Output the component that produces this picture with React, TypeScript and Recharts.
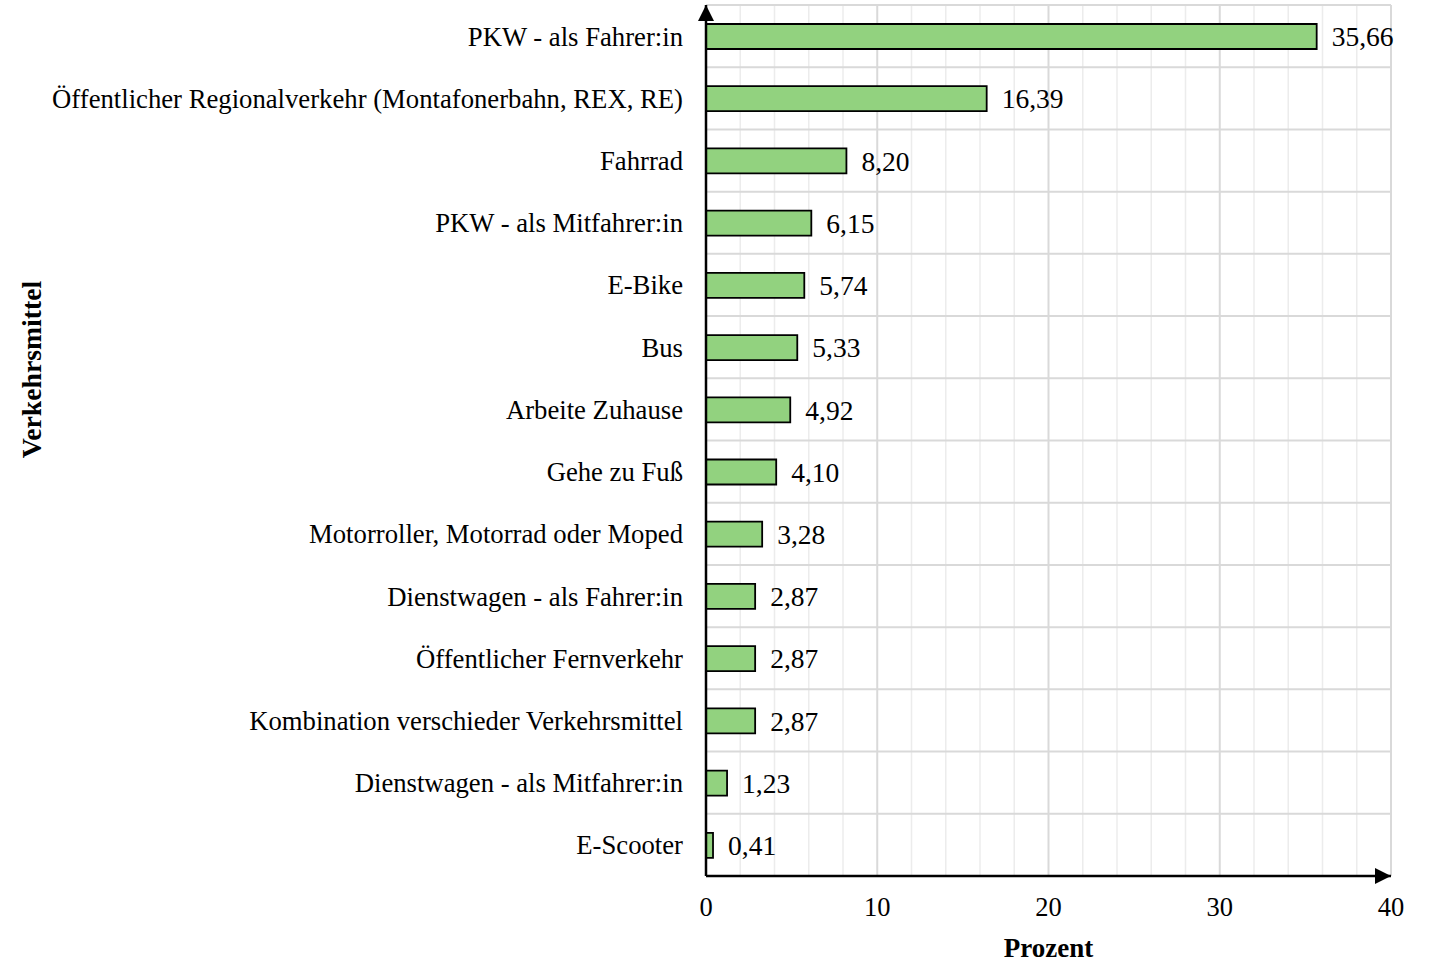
import React from 'react';
import { BarChart, Bar, XAxis, YAxis, CartesianGrid, LabelList } from 'recharts';

const categories = [
  'PKW - als Fahrer:in',
  'Öffentlicher Regionalverkehr (Montafonerbahn, REX, RE)',
  'Fahrrad',
  'PKW - als Mitfahrer:in',
  'E-Bike',
  'Bus',
  'Arbeite Zuhause',
  'Gehe zu Fuß',
  'Motorroller, Motorrad oder Moped',
  'Dienstwagen - als Fahrer:in',
  'Öffentlicher Fernverkehr',
  'Kombination verschieder Verkehrsmittel',
  'Dienstwagen - als Mitfahrer:in',
  'E-Scooter',
];
const values = [35.66, 16.39, 8.2, 6.15, 5.74, 5.33, 4.92, 4.1, 3.28, 2.87, 2.87, 2.87, 1.23, 0.41];
const xTicks = [0, 10, 20, 30, 40];
const minorGrid = [2, 4, 6, 8, 12, 14, 16, 18, 22, 24, 26, 28, 32, 34, 36, 38];
const majorGrid = [10, 20, 30, 40];
const xMax = 40;

const data = categories.map((name, i) => ({ name, value: values[i] }));

const FONT = '"Liberation Serif", "Times New Roman", serif';

const gridX = (vals: number[]) => ({ offset }: any) =>
  vals.map((v) => offset.left + (v / xMax) * offset.width);

export default function App() {
  return (
    <div style={{ position: 'absolute', left: 0, top: 0, width: 1432, height: 960, background: '#fff' }}>
      <svg width={0} height={0} style={{ position: 'absolute' }}>
        <defs>
          <marker id="arrowHead" markerUnits="userSpaceOnUse" markerWidth={18} markerHeight={18}
            refX={16} refY={8} orient="auto-start-reverse" viewBox="0 0 18 18">
            <path d="M0,0 L16,8 L0,16 Z" fill="#000" />
          </marker>
        </defs>
      </svg>
      <BarChart
        width={1432}
        height={960}
        data={data}
        layout="vertical"
        margin={{ top: 5, right: 41, bottom: 0, left: 0 }}
        barCategoryGap={0}
      >
        <CartesianGrid
          horizontal={false}
          stroke="#ececec"
          strokeWidth={1.5}
          verticalCoordinatesGenerator={gridX(minorGrid)}
        />
        <CartesianGrid
          horizontal={false}
          stroke="#d9d9d9"
          strokeWidth={2}
          verticalCoordinatesGenerator={gridX(majorGrid)}
        />
        <CartesianGrid
          vertical={false}
          stroke="#d9d9d9"
          strokeWidth={2}
          horizontalCoordinatesGenerator={({ offset }: any) =>
            categories.map((_, i) => offset.top + (i * offset.height) / categories.length).concat([offset.top + offset.height])
          }
        />
        <XAxis
          type="number"
          domain={[0, xMax]}
          ticks={xTicks}
          height={84}
          tickLine={false}
          tickSize={0}
          tickMargin={21}
          axisLine={{ stroke: '#000', strokeWidth: 2.5, markerEnd: 'url(#arrowHead)' } as any}
          tick={{ fill: '#000', fontSize: 26.5, fontFamily: FONT }}
          label={{ value: 'Prozent', position: 'insideBottom', offset: 3, fill: '#000', fontSize: 27, fontWeight: 'bold', fontFamily: FONT }}
        />
        <YAxis
          type="category"
          dataKey="name"
          width={706}
          tickLine={false}
          tickSize={0}
          tickMargin={23}
          interval={0}
          axisLine={{ stroke: '#000', strokeWidth: 2.5, markerStart: 'url(#arrowHead)' } as any}
          tick={{ fill: '#000', fontSize: 26.7, fontFamily: FONT }}
          label={{ value: 'Verkehrsmittel', angle: -90, position: 'insideLeft', offset: 31, dy: -71, fill: '#000', fontSize: 27.7, fontWeight: 'bold', fontFamily: FONT, style: { textAnchor: 'middle' } }}
        />
        <Bar dataKey="value" barSize={25} fill="#92d27f" stroke="#000" strokeWidth={1.8} isAnimationActive={false}>
          <LabelList
            dataKey="value"
            position="right"
            offset={15}
            formatter={(v: any) => Number(v).toFixed(2).replace('.', ',')}
            fill="#000"
            fontSize={27.5}
            fontFamily={FONT}
          />
        </Bar>
      </BarChart>
    </div>
  );
}
